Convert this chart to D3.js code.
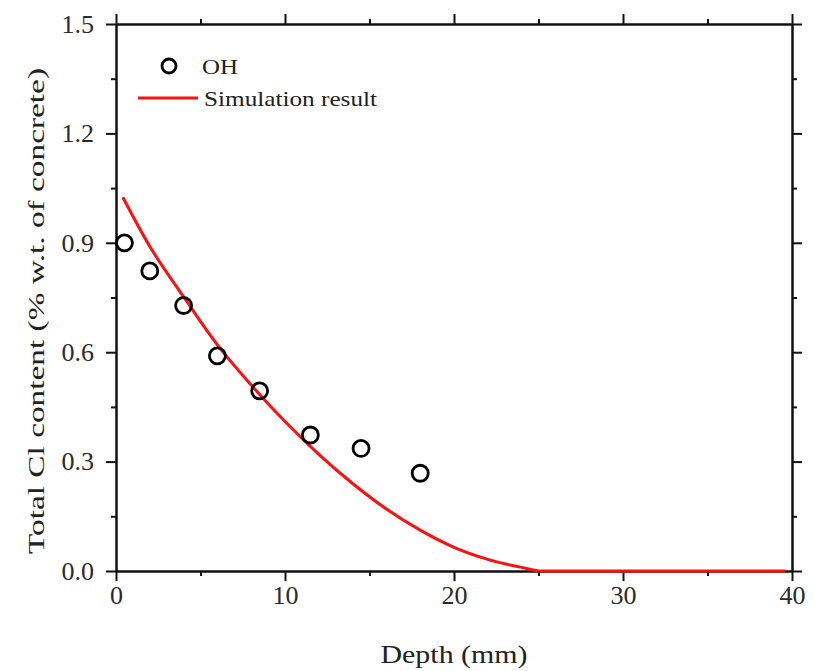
<!DOCTYPE html>
<html>
<head>
<meta charset="utf-8">
<script src="https://cdn.jsdelivr.net/npm/d3@7"></script>
<style>
  html, body { margin: 0; padding: 0; background: #fff; }
  svg { display: block; }
  text { font-family: "Liberation Serif", "Times New Roman", serif; }
</style>
</head>
<body>
<script>
// ---- Data ----
const depth = [0.5, 2, 4, 6, 8.5, 11.5, 14.5, 18];
const ohValues = [0.90, 0.823, 0.728, 0.590, 0.494, 0.373, 0.336, 0.268];
const simDepth = [0.4, 2, 4, 6, 8, 10, 12, 14, 16, 18, 20, 22, 24, 25.2, 39.6];
const simValues = [1.025, 0.89, 0.752, 0.62, 0.51, 0.41, 0.32, 0.24, 0.17, 0.112, 0.065, 0.032, 0.01, 0, 0];
const xTicks = [0, 10, 20, 30, 40];
const xMinor = [5, 15, 25, 35];
const yTicks = [0.0, 0.3, 0.6, 0.9, 1.2, 1.5];
const yMinor = [0.15, 0.45, 0.75, 1.05, 1.35];
const xTitle = "Depth (mm)";
const yTitle = "Total Cl content (% w.t. of concrete)";
const legendLabels = ["OH", "Simulation result"];

const W = 820, H = 671;
const L = 116, R = 792, T = 24, B = 571;

const svg = d3.select("body").append("svg").attr("width", W).attr("height", H);

const x = d3.scaleLinear().domain([0, 40]).range([L, R]);
const y = d3.scaleLinear().domain([0, 1.5]).range([B, T]);

function styleAxis(g) {
  g.attr("font-family", '"Liberation Serif", serif');
  g.selectAll("path.domain").attr("stroke", "#111").attr("stroke-width", 2);
  g.selectAll(".tick line").attr("stroke", "#111").attr("stroke-width", 2);
  g.selectAll(".tick text")
    .attr("fill", "#2a2a2a")
    .style("font-family", '"Liberation Serif", serif')
    .style("font-size", "26px");
}

// Bottom
const gB = svg.append("g").attr("transform", `translate(0,${B})`)
  .call(d3.axisBottom(x).tickValues(xTicks).tickSize(10).tickSizeOuter(0).tickPadding(5).tickFormat(d3.format("d")));
styleAxis(gB);
const gBm = svg.append("g").attr("transform", `translate(0,${B})`)
  .call(d3.axisBottom(x).tickValues(xMinor).tickSize(5).tickSizeOuter(0).tickFormat(""));
styleAxis(gBm);

// Top
const gT = svg.append("g").attr("transform", `translate(0,${T})`)
  .call(d3.axisTop(x).tickValues(xTicks).tickSize(10).tickSizeOuter(0).tickFormat(""));
styleAxis(gT);
const gTm = svg.append("g").attr("transform", `translate(0,${T})`)
  .call(d3.axisTop(x).tickValues(xMinor).tickSize(5).tickSizeOuter(0).tickFormat(""));
styleAxis(gTm);

// Left
const gL = svg.append("g").attr("transform", `translate(${L},0)`)
  .call(d3.axisLeft(y).tickValues(yTicks).tickSize(10).tickSizeOuter(0).tickPadding(12).tickFormat(d3.format(".1f")));
styleAxis(gL);
const gLm = svg.append("g").attr("transform", `translate(${L},0)`)
  .call(d3.axisLeft(y).tickValues(yMinor).tickSize(5).tickSizeOuter(0).tickFormat(""));
styleAxis(gLm);

// Right
const gR = svg.append("g").attr("transform", `translate(${R},0)`)
  .call(d3.axisRight(y).tickValues(yTicks).tickSize(10).tickSizeOuter(0).tickFormat(""));
styleAxis(gR);
const gRm = svg.append("g").attr("transform", `translate(${R},0)`)
  .call(d3.axisRight(y).tickValues(yMinor).tickSize(5).tickSizeOuter(0).tickFormat(""));
styleAxis(gRm);

// Simulation line
const simData = simDepth.map((d, i) => [d, simValues[i]]);
svg.append("path")
  .datum(simData)
  .attr("fill", "none")
  .attr("stroke", "#ff1010")
  .attr("stroke-width", 3)
  .attr("d", d3.line().x(d => x(d[0])).y(d => y(d[1])).curve(d3.curveMonotoneX));

// OH points
svg.append("g").selectAll("circle")
  .data(depth.map((d, i) => [d, ohValues[i]]))
  .join("circle")
  .attr("cx", d => x(d[0]))
  .attr("cy", d => y(d[1]))
  .attr("r", 8)
  .attr("fill", "none")
  .attr("stroke", "#000")
  .attr("stroke-width", 2.8);

// Legend
const leg = svg.append("g");
leg.append("circle").attr("cx", 169).attr("cy", 66).attr("r", 7)
  .attr("fill", "none").attr("stroke", "#000").attr("stroke-width", 2.8);
leg.append("text").attr("x", 202).attr("y", 74)
  .attr("textLength", 36).attr("lengthAdjust", "spacingAndGlyphs")
  .style("font-size", "21px").attr("fill", "#222").text(legendLabels[0]);
leg.append("line").attr("x1", 138).attr("x2", 198).attr("y1", 98).attr("y2", 98)
  .attr("stroke", "#ff1010").attr("stroke-width", 3);
leg.append("text").attr("x", 204).attr("y", 106)
  .attr("textLength", 173).attr("lengthAdjust", "spacingAndGlyphs")
  .style("font-size", "21px").attr("fill", "#222").text(legendLabels[1]);

// Axis titles
svg.append("text")
  .attr("x", (L + R) / 2).attr("y", 663)
  .attr("text-anchor", "middle")
  .attr("textLength", 147).attr("lengthAdjust", "spacingAndGlyphs")
  .style("font-size", "25px").attr("fill", "#222").text(xTitle);

svg.append("text")
  .attr("transform", `translate(44,${311}) rotate(-90)`)
  .attr("text-anchor", "middle")
  .attr("textLength", 486).attr("lengthAdjust", "spacingAndGlyphs")
  .style("font-size", "24px").attr("fill", "#222").text(yTitle);
</script>
</body>
</html>
